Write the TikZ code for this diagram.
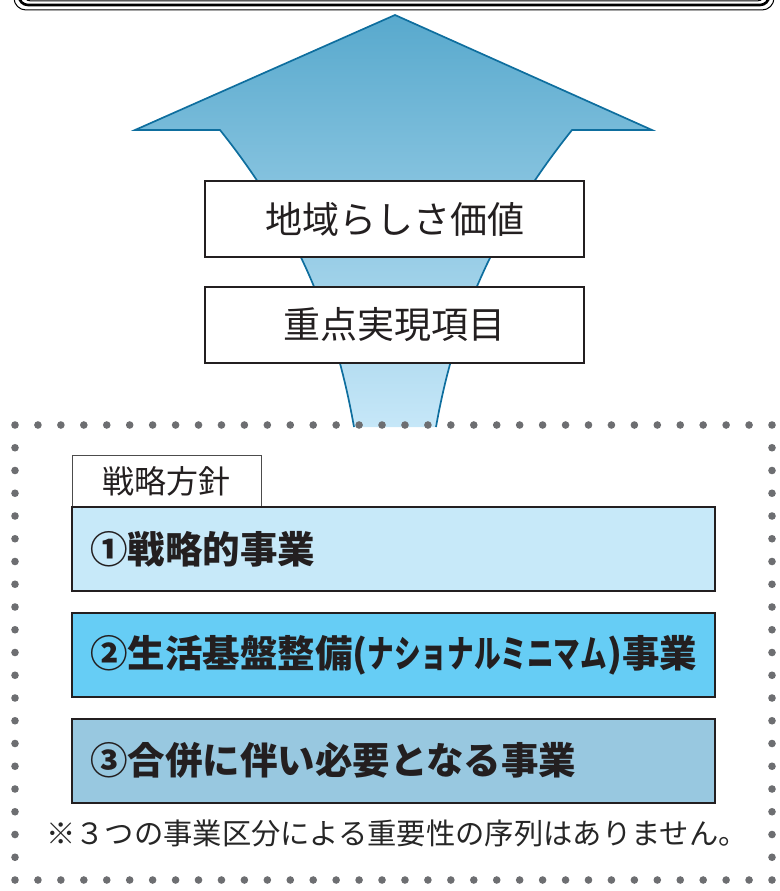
\documentclass[tikz,border=0pt]{standalone}
\usepackage{fontspec}
\newfontfamily\jp{Noto Sans CJK JP}
\usetikzlibrary{shadings}
\definecolor{arrowline}{HTML}{0E6E9E}
\definecolor{arrowtop}{HTML}{58A9CD}
\definecolor{arrowbot}{HTML}{C6E7F8}
\definecolor{dotc}{HTML}{6D6E71}
\definecolor{boxline}{HTML}{231F20}
\definecolor{cone}{HTML}{C7E9F9}
\definecolor{ctwo}{HTML}{66CDF5}
\definecolor{cthree}{HTML}{98C8E0}
\begin{document}
\begin{tikzpicture}[x=1pt,y=-1pt,
  topbox/.style={draw=boxline, line width=2pt, fill=white, minimum width=379pt, minimum height=76pt, inner sep=0pt,
    font=\jp\fontsize{37}{42}\selectfont, text=boxline},
  tabbox/.style={draw=black!70, line width=1pt, fill=white, minimum width=189pt, minimum height=52pt, inner sep=0pt,
    font=\jp\fontsize{32}{36}\selectfont, text=boxline},
  catbox/.style={draw=boxline, line width=2pt, text width=607pt, inner xsep=18pt, inner ysep=0pt, minimum height=84pt,
    align=left, font=\jp\bfseries\fontsize{37.5}{42}\selectfont, text=boxline},
  notetext/.style={font=\jp\fontsize{29.3}{32}\selectfont, text=black!85, inner sep=0pt, anchor=west},
  dot/.style={fill=dotc}
]
\useasboundingbox (0,0) rectangle (779,891);
% top frame (clipped)
\begin{scope}
\clip (0,0) rectangle (779,891);
\draw[line width=1pt, rounded corners=12pt] (14,-40) -- (14,10) -- (774,10) -- (774,-40);
\draw[line width=2.6pt, rounded corners=9pt] (19,-40) -- (19,5) -- (769,5) -- (769,-40);
\draw[line width=1pt, rounded corners=6pt] (24,-40) -- (24,0.8) -- (764,0.8) -- (764,-40);
\end{scope}
% arrow
\shade[top color=arrowtop, bottom color=arrowbot]
  (395,15) -- (652,130) -- (572,130) .. controls (492,230) and (454,325) .. (436,427)
  -- (354,427) .. controls (336,325) and (300,230) .. (220,130) -- (135,130) -- cycle;
\draw[arrowline, line width=1.7pt, line join=miter]
  (436,427) .. controls (454,325) and (492,230) .. (572,130) -- (652,130) -- (395,15)
  -- (135,130) -- (220,130) .. controls (300,230) and (336,325) .. (354,427);
% top boxes
\node[topbox] (val) at (394.5,219) {地域らしさ価値};
\node[topbox] (imp) at (394.5,325) {重点実現項目};
% dotted frame
\foreach \i in {0,...,33} {
  \fill[dot] ({15+\i*22.9394},425) circle (3.8);
  \fill[dot] ({15+\i*22.9394},880) circle (3.8);
}
\foreach \j in {1,...,19} {
  \fill[dot] (15,{425+\j*22.75}) circle (3.8);
  \fill[dot] (772,{425+\j*22.75}) circle (3.8);
}
% strategy
\node[tabbox] (tab) at (166.5,481) {戦略方針};
\node[catbox, fill=cone] (b1) at (393.5,549) {①戦略的事業};
\node[catbox, fill=ctwo] (b2) at (393.5,655) {②生活基盤整備(\scalebox{0.71}[1]{ナショナルミニマム})事業};
\node[catbox, fill=cthree] (b3) at (393.5,760.5) {③合併に伴い必要となる事業};
\node[notetext] (note) at (46,833) {※３つの事業区分による重要性の序列はありません。};
\end{tikzpicture}
\end{document}
